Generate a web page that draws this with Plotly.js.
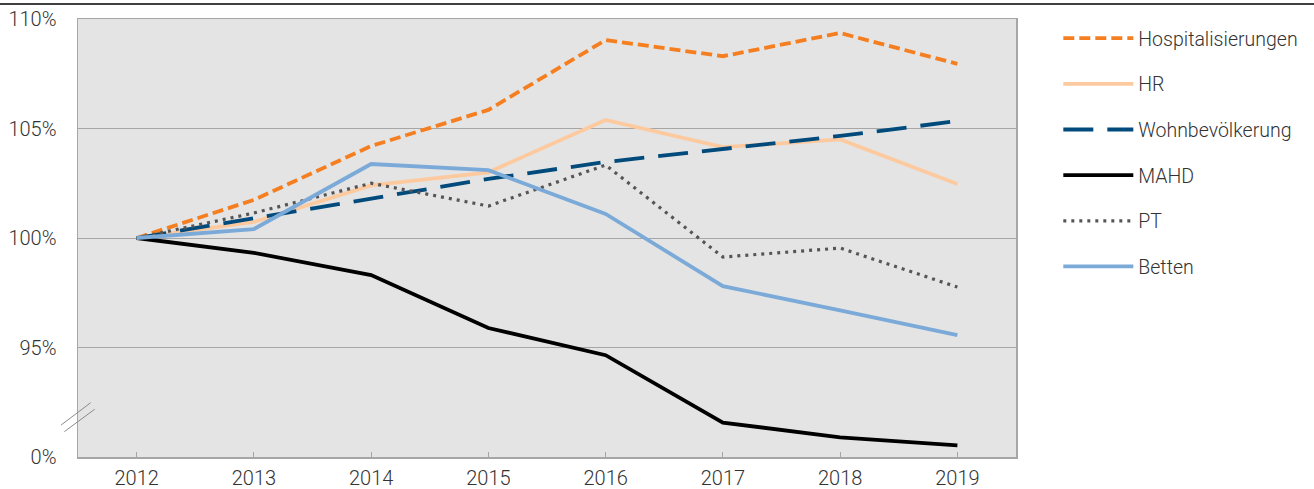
<!DOCTYPE html>
<html>
<head>
<meta charset="utf-8">
<script src="https://cdn.plot.ly/plotly-3.0.1.min.js"></script>
<style>html,body{margin:0;padding:0;background:#fff;}#chart{width:1314px;height:489px;}</style>
</head>
<body>
<div id="chart"></div>
<script>
// Categories (years)
const years = ["2012","2013","2014","2015","2016","2017","2018","2019"];
// Series (index, 2012 = 100%)
const hospitalisierungen = [100, 101.74, 104.2, 105.85, 109.04, 108.3, 109.36, 107.95];
const hr = [100, 100.73, 102.4, 103.0, 105.39, 104.15, 104.5, 102.47];
const wohnbevoelkerung = [100, 100.9, 101.83, 102.7, 103.47, 104.06, 104.66, 105.34];
const mahd = [100, 99.32, 98.31, 95.89, 94.65, 91.57, 90.9, 90.53];
const pt = [100, 101.14, 102.5, 101.46, 103.33, 99.13, 99.54, 97.76];
const betten = [100, 100.41, 103.38, 103.1, 101.1, 97.8, 96.7, 95.57];
// Y tick values and labels (broken axis: bottom labelled 0%)
const yTickVals = [90, 95, 100, 105, 110];
const yTickText = ["0%", "95%", "100%", "105%", "110%"];

const seriesNames = ["Hospitalisierungen","HR","Wohnbevölkerung","MAHD","PT","Betten"];
const seriesData = [hospitalisierungen, hr, wohnbevoelkerung, mahd, pt, betten];
const seriesColors = ["#F57F20","#FDCAA0","#004A7C","#000000","#555555","#7BAAD9"];
const seriesDash = ["11px,5px","solid","30px,14px","solid","3px,5px","solid"];
const seriesWidth = [3.8, 3.8, 3.8, 3.8, 3.2, 3.8];

const traces = seriesNames.map((n, i) => ({
  type: "scatter", mode: "lines", name: n, x: years, y: seriesData[i],
  line: {color: seriesColors[i], width: seriesWidth[i], dash: seriesDash[i]},
  legendgroup: "g" + i
}));

const font = {family: "Roboto, 'Noto Sans', sans-serif", size: 20, color: "#333333", weight: 300};
const legendFont = {family: "Roboto, 'Noto Sans', sans-serif", size: 19.5, color: "#333333", weight: 300};

const layout = {
  width: 1314, height: 489,
  margin: {l: 78, r: 297, t: 19, b: 32},
  paper_bgcolor: "#ffffff", plot_bgcolor: "#E4E4E4",
  font: font,
  showlegend: true,
  legend: {x: 1.044, xanchor: "left", y: 1.0, yanchor: "top", font: legendFont,
           tracegroupgap: 17.3, itemwidth: 70, bgcolor: "rgba(0,0,0,0)"},
  xaxis: {type: "category", range: [-0.5, 7.5], showgrid: false, zeroline: false,
          showline: true, mirror: true, linecolor: "#A6A6A6", linewidth: 1.5,
          ticks: "inside", ticklen: 5, tickcolor: "#A6A6A6", tickwidth: 1,
          ticklabelstandoff: 2, tickfont: font, fixedrange: true},
  yaxis: {range: [90, 110], tickvals: yTickVals, ticktext: yTickText,
          showgrid: true, gridcolor: "#A6A6A6", gridwidth: 1, zeroline: false,
          showline: true, mirror: true, linecolor: "#A6A6A6", linewidth: 1.5,
          ticks: "", ticklabelstandoff: 16, tickfont: font, fixedrange: true},
  shapes: [
    {type: "line", xref: "paper", yref: "paper", x0: -0.084, x1: 1.32, y0: 1.034, y1: 1.034,
     line: {color: "#000000", width: 1.5}},
    {type: "line", xref: "paper", yref: "paper", x0: -0.018, x1: 0.0135, y0: 0.073, y1: 0.124,
     line: {color: "#8a8a8a", width: 1}},
    {type: "line", xref: "paper", yref: "paper", x0: -0.0145, x1: 0.0178, y0: 0.058, y1: 0.109,
     line: {color: "#8a8a8a", width: 1}}
  ]
};

Plotly.newPlot("chart", traces, layout, {staticPlot: true, displayModeBar: false});
</script>
</body>
</html>
